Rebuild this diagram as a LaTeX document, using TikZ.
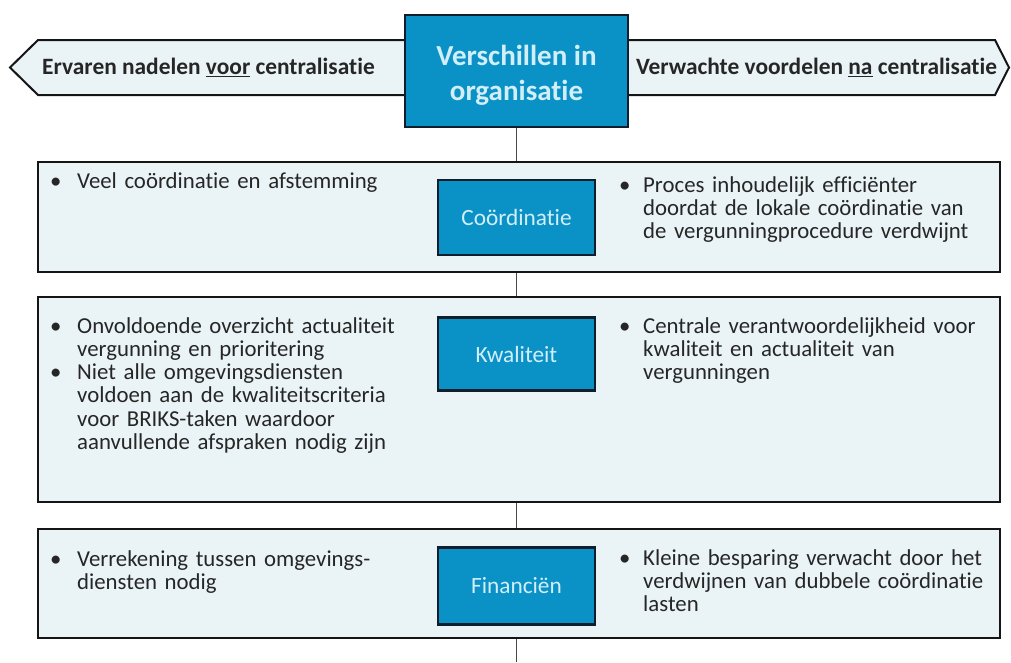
\documentclass[tikz,border=0pt]{standalone}
\usepackage{fontspec}
\setmainfont{Carlito}[Ligatures={NoCommon}]
\definecolor{blueb}{HTML}{0A92C7}
\definecolor{lbl}{HTML}{D2EEF8}
\definecolor{pale}{HTML}{EAF4F7}
\definecolor{edge}{HTML}{151515}
\definecolor{navy}{HTML}{0E1E2C}
\definecolor{txtc}{HTML}{262626}
\definecolor{linec}{HTML}{484848}
\newlength\bind
\newcommand\myitem[1]{\hangindent=\bind\hangafter=1\noindent\makebox[\bind][l]{•}#1\par}
\newcommand\nl{\hfil\break}
\tikzset{
  bigbox/.style={draw=edge, line width=2pt, fill=pale, minimum width=962pt, inner sep=0pt},
  tagbox/.style={draw=navy, line width=2.4pt, fill=blueb, text=lbl, minimum width=157pt, inner sep=0pt, font=\fontsize{23.3}{24}\selectfont},
  btxt/.style={anchor=base west, inner sep=0pt, text width=380pt, text=txtc, font=\fontsize{22.8}{23.3}\selectfont},
  lefttxt/.style={btxt, execute at begin node={\setlength\bind{27pt}}},
  righttxt/.style={btxt, execute at begin node={\setlength\bind{24pt}}},
  head/.style={text=txtc, font=\bfseries\fontsize{23.4}{24}\selectfont, inner sep=0pt, anchor=base},
  arrowshape/.style={draw=edge, line width=2pt, fill=pale},
  vline/.style={draw=linec, line width=1.3pt}
}
\begin{document}
\begin{tikzpicture}[x=1pt,y=-1pt]
\useasboundingbox (0,0) rectangle (1011,662);
% header arrows
\draw[arrowshape] (410,40) -- (38,40) -- (10,67.5) -- (38,95) -- (410,95) -- cycle;
\draw[arrowshape] (624,40) -- (995,40) -- (1009,67.5) -- (995,95) -- (624,95) -- cycle;
\node[head] (lh) at (208.5,74.5) {Ervaren nadelen \underline{voor} centralisatie};
\node[head] (rh) at (816.5,74.5) {Verwachte voordelen \underline{na} centralisatie};
% centre title
\node[draw=navy, line width=2.4pt, fill=blueb, minimum width=223pt, minimum height=112pt, inner sep=0pt] (title) at (516.5,71) {};
\node[text=lbl, inner sep=0pt, align=center, font=\bfseries\fontsize{29}{35}\selectfont] (titletext) at (516.5,75.5) {Verschillen in\\organisatie};
% big boxes
\node[bigbox, minimum height=110pt] (b1) at (518.5,217) {};
\node[bigbox, minimum height=205pt] (b2) at (518.5,399.5) {};
\node[bigbox, minimum height=109pt] (b3) at (518.5,583) {};
\coordinate (bottom) at (516.5,662);
% spine
\draw[vline] (title.south) -- (title.south |- b1.north);
\draw[vline] (title.south |- b1.south) -- (title.south |- b2.north);
\draw[vline] (title.south |- b2.south) -- (title.south |- b3.north);
\draw[vline] (title.south |- b3.south) -- (bottom);
% tag boxes
\node[tagbox, minimum height=75pt] (t1) at (516.5,217.5) {Coördinatie};
\node[tagbox, minimum height=73pt] (t2) at (516.5,354) {Kwaliteit};
\node[tagbox, minimum height=77pt] (t3) at (516.5,586) {Financiën};
% texts box 1
\node[lefttxt] (b1l) at (50,188) {\myitem{Veel coördinatie en afstemming}};
\node[righttxt] (b1r) at (619,192) {\myitem{Proces inhoudelijk efficiënter\nl doordat de lokale coördinatie van\nl de vergunningprocedure verdwijnt}};
% texts box 2
\node[lefttxt] (b2l) at (50,333) {\myitem{Onvoldoende overzicht actualiteit\nl vergunning en prioritering}\myitem{Niet alle omgevingsdiensten\nl voldoen aan de kwaliteitscriteria\nl voor BRIKS-taken waardoor\nl aanvullende afspraken nodig zijn}};
\node[righttxt] (b2r) at (619,333) {\myitem{Centrale verantwoordelijkheid voor\nl kwaliteit en actualiteit van\nl vergunningen}};
% texts box 3
\node[lefttxt] (b3l) at (50,566) {\myitem{Verrekening tussen omgevings-\nl diensten nodig}};
\node[righttxt] (b3r) at (619,565) {\myitem{Kleine besparing verwacht door het\nl verdwijnen van dubbele coördinatie\nl lasten}};
\end{tikzpicture}
\end{document}
